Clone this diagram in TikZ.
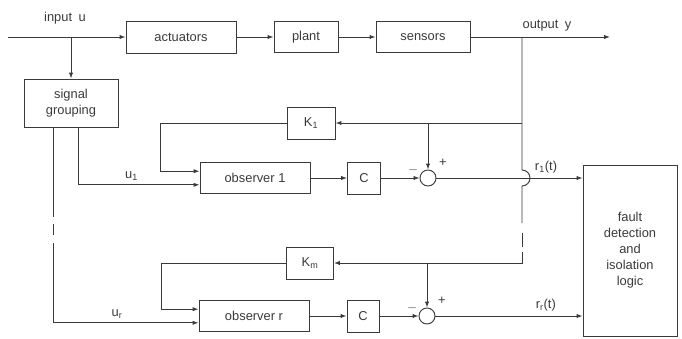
\documentclass[tikz,border=0pt]{standalone}
\usepackage{fontspec}
\setmainfont{Liberation Sans}
\usepackage{xcolor}
\definecolor{mInk}{HTML}{3A3A3A}
\usepackage{tikz}
\usetikzlibrary{positioning,arrows.meta,calc}

\begin{document}
\begin{tikzpicture}[x=0.3mm, y=-0.3mm, font=\fontsize{11}{13.6}\selectfont, mInk, line width=0.8pt,
  blk/.style={draw, inner sep=0pt, align=center},
  sumpt/.style={draw, circle, minimum size=4.8mm, inner sep=0pt},
  sig/.style={-{Latex[length=5pt,width=3.6pt]}}]
\useasboundingbox (0,0) rectangle (682,338);
% plant chain
\coordinate (in) at (8,37);
\coordinate (out) at (610,37);
\node[blk, minimum width=33mm, minimum height=9.6mm] (act) at (181,37) {actuators};
\node[blk, minimum width=19.2mm, minimum height=9.3mm] (plant) at (306,37) {plant};
\node[blk, minimum width=28.2mm, minimum height=9.3mm] (sens) at (423,37) {sensors};
\node (inlab) at (65,18) {input\enspace u};
\node (outlab) at (547,26) {output\enspace y};
\draw[sig] (in) -- (act);
\draw[sig] (act) -- (plant);
\draw[sig] (plant) -- (sens);
\draw[sig] (sens) -- (out);
% signal grouping
\node[blk, minimum width=28.2mm, minimum height=14.4mm] (sg) at (71,103) {signal\\grouping};
\draw[sig] (sg.north |- act.west) -- (sg.north);
% observer 1
\node[blk, minimum width=14.4mm, minimum height=9.6mm] (K1) at (311,123) {K\textsubscript{1}};
\node[blk, minimum width=33mm, minimum height=9.3mm] (obs1) at (255,178) {observer 1};
\node[blk, minimum width=9.9mm, minimum height=9.6mm] (C1) at (364,178) {C};
\node[sumpt] (s1) at (428,178) {};
\node (s1m) at ($(s1)+(-15,-8)$) {$-$};
\node (s1p) at ($(s1)+(15,-15)$) {+};
% observer r
\node[blk, minimum width=14.1mm, minimum height=9.6mm] (Km) at (310,263) {K\textsubscript{m}};
\node[blk, minimum width=33mm, minimum height=9.3mm] (obsr) at (254,316) {observer r};
\node[blk, minimum width=9.6mm, minimum height=9.6mm] (Cr) at (363,316) {C};
\node[sumpt] (sr) at (427,316) {};
\node (srm) at ($(sr)+(-15,-8)$) {$-$};
\node (srp) at ($(sr)+(15,-15)$) {+};
% fault logic
\node[blk, minimum width=28.2mm, minimum height=51.3mm] (fdi) at (630,250.5) {fault\\detection\\and\\isolation\\logic};
% output feedback line
\coordinate (jy) at (522,37);
\coordinate (cr1) at (jy |- s1);
\draw (jy) -- ($(cr1)+(0,-8)$) arc[start angle=-90, end angle=90, radius=8] -- ($(cr1)+(0,45)$);
\draw ($(cr1)+(0,55)$) -- ++(0,14);
\draw[sig] ($(cr1)+(0,74)$) |- (Km.east);
\draw[sig] (jy |- K1.east) -- (K1.east);
\draw[sig] (s1.north |- K1.east) -- (s1.north);
\draw[sig] (sr.north |- Km.east) -- (sr.north);
% gain loops
\draw[sig] (K1.west) -- ++(-126,0) |- (obs1.173);
\draw[sig] (Km.west) -- ++(-125,0) |- (obsr.173);
% grouped inputs
\draw[sig] ($(sg.south)+(7,0)$) |- (obs1.187) node[pos=0.72, above] (u1lab) {u\textsubscript{1}};
\coordinate (gl) at ($(sg.south)+(-18,0)$);
\draw (gl) -- ++(0,90);
\draw ($(gl)+(0,97)$) -- ++(0,11);
\draw[sig] ($(gl)+(0,116)$) |- (obsr.187) node[pos=0.72, above] (urlab) {u\textsubscript{r}};
% residuals
\draw[sig] (obs1) -- (C1);
\draw[sig] (C1) -- (s1);
\draw[sig] (s1) -- (fdi.west |- s1) node[pos=0.75, above] (r1lab) {r\textsubscript{1}(t)};
\draw[sig] (obsr) -- (Cr);
\draw[sig] (Cr) -- (sr);
\draw[sig] (sr) -- (fdi.west |- sr) node[pos=0.75, above] (rrlab) {r\textsubscript{r}(t)};
\end{tikzpicture}
\end{document}
